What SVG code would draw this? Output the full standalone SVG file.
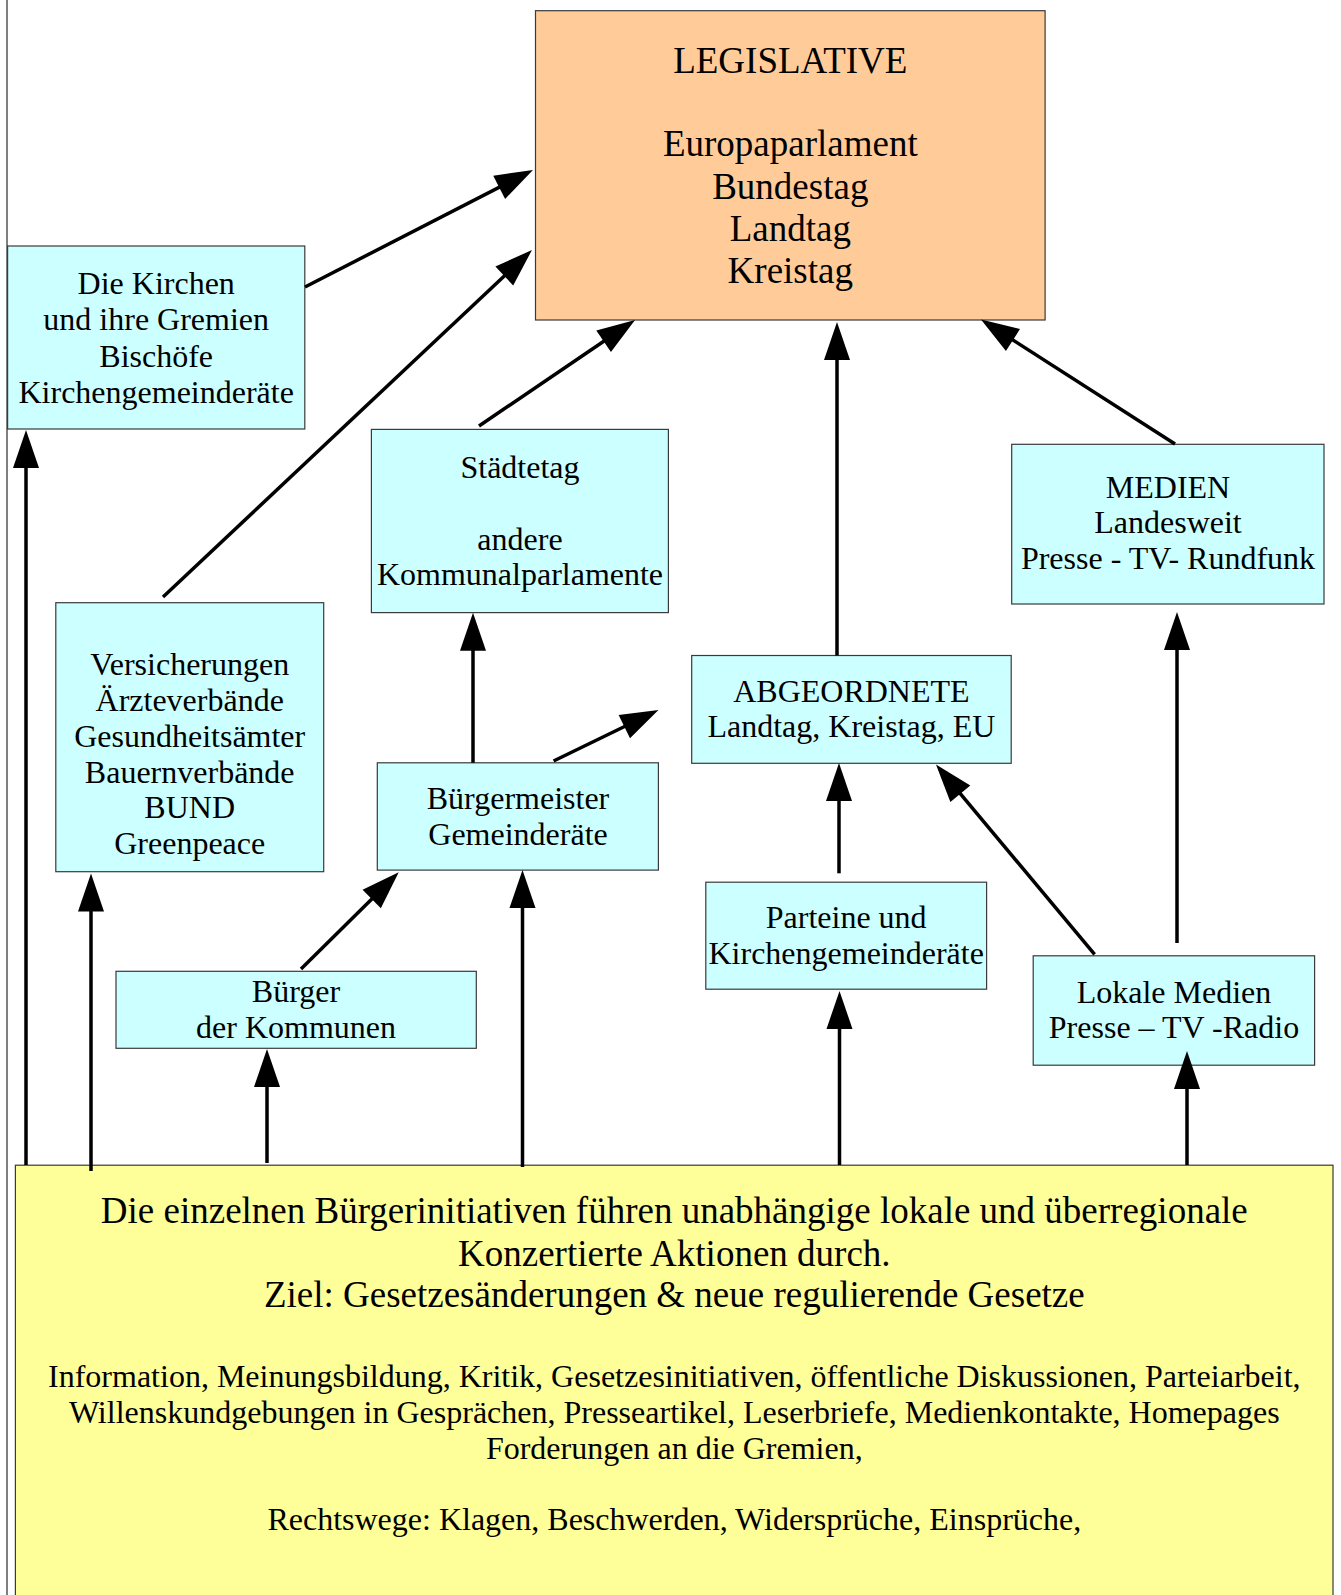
<svg xmlns="http://www.w3.org/2000/svg" width="1341" height="1595" viewBox="0 0 1341 1595">
<style>
.box{stroke:#3a3a3a;stroke-width:1.2}
.cyan{fill:#ccffff}
.t{font-family:"Liberation Serif","Times New Roman",serif;font-size:32px;fill:#000;text-anchor:middle}
.big{font-size:37px}
.c{stroke:#000;stroke-width:3.5;fill:none;marker-end:url(#ah)}
</style>
<defs>
<marker id="ah" markerUnits="userSpaceOnUse" markerWidth="40" markerHeight="28" refX="18" refY="13" orient="auto" overflow="visible">
<path d="M0,0 L38,13 L0,26 Z" fill="#000"/>
</marker>
</defs>
<rect width="1341" height="1595" fill="#fff"/>
<line x1="7" y1="0" x2="7" y2="1595" stroke="#000" stroke-width="1"/>

<g id="legislative">
<rect class="box" x="535.5" y="10.7" width="509.6" height="309.3" fill="#ffcc99"/>
<text class="t big" x="790.3" y="72.7">LEGISLATIVE</text>
<text class="t big" x="790.3" y="156">Europaparlament</text>
<text class="t big" x="790.3" y="198.5">Bundestag</text>
<text class="t big" x="790.3" y="240.5">Landtag</text>
<text class="t big" x="790.3" y="282.7">Kreistag</text>
</g>

<g id="kirchen">
<rect class="box cyan" x="7.6" y="246" width="297.2" height="183"/>
<text class="t" x="156.2" y="294">Die Kirchen</text>
<text class="t" x="156.2" y="330">und ihre Gremien</text>
<text class="t" x="156.2" y="366.5">Bischöfe</text>
<text class="t" x="156.2" y="402.5">Kirchengemeinderäte</text>
</g>

<g id="staedtetag">
<rect class="box cyan" x="371.4" y="429.4" width="297" height="183.2"/>
<text class="t" x="520" y="478">Städtetag</text>
<text class="t" x="520" y="549.5">andere</text>
<text class="t" x="520" y="585">Kommunalparlamente</text>
</g>

<g id="medien">
<rect class="box cyan" x="1011.7" y="444.3" width="312.3" height="159.7"/>
<text class="t" x="1168" y="498.3">MEDIEN</text>
<text class="t" x="1168" y="533.3">Landesweit</text>
<text class="t" x="1168" y="569.3">Presse - TV- Rundfunk</text>
</g>

<g id="verbaende">
<rect class="box cyan" x="55.8" y="602.7" width="267.9" height="269"/>
<text class="t" x="189.7" y="675">Versicherungen</text>
<text class="t" x="189.7" y="710.7">Ärzteverbände</text>
<text class="t" x="189.7" y="746.7">Gesundheitsämter</text>
<text class="t" x="189.7" y="782.7">Bauernverbände</text>
<text class="t" x="189.7" y="818.3">BUND</text>
<text class="t" x="189.7" y="854">Greenpeace</text>
</g>

<g id="abgeordnete">
<rect class="box cyan" x="691.7" y="655.5" width="319.5" height="107.8"/>
<text class="t" x="851.4" y="701.7">ABGEORDNETE</text>
<text class="t" x="851.4" y="737.3">Landtag, Kreistag, EU</text>
</g>

<g id="buergermeister">
<rect class="box cyan" x="377.3" y="762.8" width="281.1" height="107.3"/>
<text class="t" x="518" y="809.3">Bürgermeister</text>
<text class="t" x="518" y="845">Gemeinderäte</text>
</g>

<g id="parteien">
<rect class="box cyan" x="705.8" y="882.2" width="280.8" height="107"/>
<text class="t" x="846.2" y="928.3">Parteine und</text>
<text class="t" x="846.2" y="964.3">Kirchengemeinderäte</text>
</g>

<g id="buerger">
<rect class="box cyan" x="116" y="971.3" width="360.3" height="77"/>
<text class="t" x="296" y="1001.7">Bürger</text>
<text class="t" x="296" y="1038.3">der Kommunen</text>
</g>

<g id="lokale-medien">
<rect class="box cyan" x="1033.2" y="955.8" width="281.4" height="109.4"/>
<text class="t" x="1174" y="1002.7">Lokale Medien</text>
<text class="t" x="1174" y="1038.3">Presse – TV -Radio</text>
</g>

<g id="buergerinitiativen">
<rect class="box" x="15.4" y="1165.2" width="1317.6" height="450" fill="#ffff99"/>
<text class="t big" x="674.3" y="1223.3">Die einzelnen Bürgerinitiativen führen unabhängige lokale und überregionale</text>
<text class="t big" x="674.3" y="1265.7">Konzertierte Aktionen durch.</text>
<text class="t big" x="674.3" y="1307.3">Ziel: Gesetzesänderungen &amp; neue regulierende Gesetze</text>
<text class="t" x="674.3" y="1387.3">Information, Meinungsbildung, Kritik, Gesetzesinitiativen, öffentliche Diskussionen, Parteiarbeit,</text>
<text class="t" x="674.3" y="1423.3">Willenskundgebungen in Gesprächen, Presseartikel, Leserbriefe, Medienkontakte, Homepages</text>
<text class="t" x="674.3" y="1459">Forderungen an die Gremien,</text>
<text class="t" x="674.3" y="1530">Rechtswege: Klagen, Beschwerden, Widersprüche, Einsprüche,</text>
</g>

<g id="connectors">
<line class="c" x1="305" y1="287" x2="515.2" y2="179.1"/>
<line class="c" x1="163" y1="597" x2="517.4" y2="263.7"/>
<line class="c" x1="479" y1="426" x2="618.5" y2="331.2"/>
<line class="c" x1="837" y1="655.5" x2="837" y2="342"/>
<line class="c" x1="1175" y1="444" x2="997.8" y2="330.3"/>
<line class="c" x1="473" y1="762.8" x2="473" y2="632.7"/>
<line class="c" x1="553.6" y1="761" x2="640.5" y2="718.7"/>
<line class="c" x1="301" y1="969" x2="384.5" y2="886.4"/>
<line class="c" x1="839" y1="873.3" x2="839" y2="783"/>
<line class="c" x1="1094.6" y1="954.4" x2="948.8" y2="779.9"/>
<line class="c" x1="1177" y1="943" x2="1177" y2="632"/>
<line class="c" x1="26" y1="1165" x2="26" y2="450"/>
<line class="c" x1="91" y1="1171" x2="91" y2="893.5"/>
<line class="c" x1="267" y1="1163" x2="267" y2="1069"/>
<line class="c" x1="522.5" y1="1167" x2="522.5" y2="890"/>
<line class="c" x1="839.5" y1="1165" x2="839.5" y2="1011"/>
<line class="c" x1="1187" y1="1165" x2="1187" y2="1071"/>
</g>
</svg>
